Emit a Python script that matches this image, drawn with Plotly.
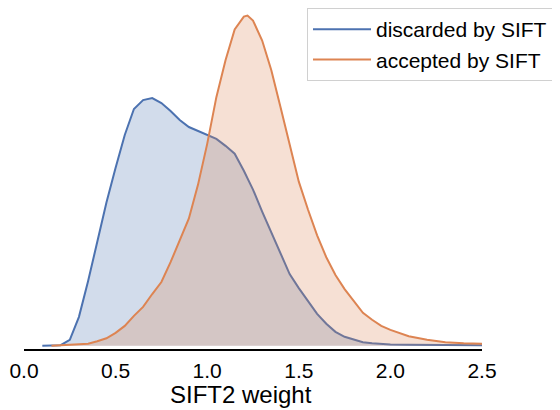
import plotly.graph_objects as go

# SIFT2 weight grid and KDE densities
x_discarded = [0.10, 0.15, 0.20, 0.25, 0.30, 0.35, 0.40, 0.45, 0.50, 0.55, 0.60, 0.65,
               0.70, 0.75, 0.80, 0.85, 0.90, 0.95, 1.00, 1.05, 1.10, 1.15, 1.20, 1.25,
               1.30, 1.35, 1.40, 1.45, 1.50, 1.55, 1.60, 1.65, 1.70, 1.75, 1.80, 1.85,
               1.90, 2.00, 2.10, 2.20, 2.30, 2.40, 2.50]
y_discarded = [0.000, 0.000, 0.003, 0.036, 0.175, 0.392, 0.639, 0.867, 1.078, 1.277, 1.434, 1.488,
               1.500, 1.470, 1.422, 1.367, 1.325, 1.301, 1.277, 1.253, 1.211, 1.163, 1.060, 0.946,
               0.813, 0.687, 0.566, 0.434, 0.349, 0.271, 0.193, 0.133, 0.084, 0.054, 0.036, 0.021,
               0.015, 0.007, 0.005, 0.004, 0.003, 0.002, 0.002]

x_accepted = [0.15, 0.20, 0.25, 0.30, 0.35, 0.40, 0.45, 0.50, 0.55, 0.60, 0.65, 0.70,
              0.75, 0.80, 0.85, 0.90, 0.95, 1.00, 1.05, 1.10, 1.15, 1.20, 1.22, 1.25,
              1.30, 1.35, 1.40, 1.45, 1.50, 1.55, 1.60, 1.65, 1.70, 1.75, 1.80, 1.85,
              1.90, 1.95, 2.00, 2.05, 2.10, 2.20, 2.30, 2.40, 2.50]
y_accepted = [0.000, 0.003, 0.006, 0.009, 0.012, 0.027, 0.045, 0.078, 0.120, 0.181, 0.235, 0.313,
              0.386, 0.506, 0.633, 0.771, 0.976, 1.223, 1.506, 1.729, 1.916, 1.994, 2.000, 1.970,
              1.849, 1.669, 1.446, 1.211, 0.994, 0.825, 0.669, 0.536, 0.428, 0.343, 0.271, 0.199,
              0.157, 0.120, 0.096, 0.075, 0.057, 0.036, 0.021, 0.015, 0.012]

series_names = ["discarded by SIFT", "accepted by SIFT"]
tick_vals = [0.0, 0.5, 1.0, 1.5, 2.0, 2.5]
tick_text = ["0.0", "0.5", "1.0", "1.5", "2.0", "2.5"]
x_title = "SIFT2 weight"

BLUE = "#4c72b0"
ORANGE = "#dd8452"
FONT = "Liberation Sans, Arial, sans-serif"

fig = go.Figure()
for xs, ys, name, col, fillcol in [
    (x_discarded, y_discarded, series_names[0], BLUE, "rgba(76,114,176,0.25)"),
    (x_accepted, y_accepted, series_names[1], ORANGE, "rgba(221,132,82,0.25)"),
]:
    # shaded area (no legend entry)
    fig.add_trace(go.Scatter(
        x=xs, y=ys, mode="lines", showlegend=False, hoverinfo="skip",
        line=dict(width=0, color=col), fill="tozeroy", fillcolor=fillcol))
    # outline (legend entry shows a plain line)
    fig.add_trace(go.Scatter(
        x=xs, y=ys, mode="lines", name=name,
        line=dict(color=col, width=2)))

# page body has an 8px margin, so the figure is sized/offset to compensate
OFF = 8
W, H = 560 - OFF, 410 - OFF
L, R, T, B = 24 - OFF, 78, 0, 61
plot_w = W - L - R
plot_h = H - T - B

fig.update_layout(
    width=W, height=H,
    margin=dict(l=L, r=R, t=T, b=B, pad=0),
    paper_bgcolor="white", plot_bgcolor="white",
    font=dict(family=FONT, size=21, color="black"),
    showlegend=True,
    legend=dict(
        x=(307 - OFF - L) / plot_w, y=1.0 + 2.0 / plot_h, xanchor="left", yanchor="top",
        bordercolor="#d0d0d0", borderwidth=1, bgcolor="rgba(255,255,255,0.8)",
        font=dict(family=FONT, size=21, color="black"),
        itemwidth=58,
    ),
    xaxis=dict(
        range=[0, 2.5], showgrid=False, zeroline=False,
        showline=True, linecolor="black", linewidth=2,
        tickmode="array", tickvals=tick_vals, ticktext=tick_text,
        ticks="", tickfont=dict(family=FONT, size=21, color="black"),
        ticklabelstandoff=2,
    ),
    yaxis=dict(
        range=[-0.02, 2.034], showgrid=False, zeroline=False, showline=False,
        showticklabels=False, ticks="",
    ),
    annotations=[dict(
        text=x_title, xref="paper", yref="paper",
        x=(241 - OFF - L) / plot_w, y=(H - B - (394.6 - OFF)) / plot_h,
        xanchor="center", yanchor="middle", showarrow=False,
        font=dict(family=FONT, size=24, color="black"),
    )],
)

fig.write_html("out.html")
